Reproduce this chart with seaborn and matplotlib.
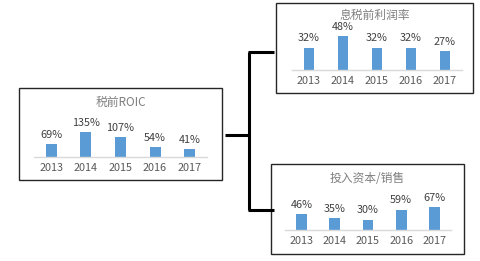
import matplotlib
matplotlib.use("Agg")
import matplotlib.pyplot as plt
from matplotlib.lines import Line2D
from matplotlib.patches import Rectangle
import seaborn as sns
import pandas as pd

sns.set_theme(style="white")
plt.rcParams["font.family"] = ["Noto Sans CJK SC", "DejaVu Sans"]

years = ["2013", "2014", "2015", "2016", "2017"]
roic_title = "税前ROIC"
roic = [69, 135, 107, 54, 41]
margin_title = "息税前利润率"
margin = [32, 48, 32, 32, 27]
capital_title = "投入资本/销售"
capital = [46, 35, 30, 59, 67]

W, H = 480, 261
fig = plt.figure(figsize=(W / 100, H / 100), dpi=100)
fig.patch.set_facecolor("white")


def frac(x0, y0, x1, y1):
    """Pixel box (top-left origin) -> figure-fraction rect."""
    return [x0 / W, 1 - y1 / H, (x1 - x0) / W, (y1 - y0) / H]


BAR = "#5B9BD5"
TXT = "#595959"


def panel(box, plot_box, scale, title, title_y, values):
    bx0, by0, bx1, by1 = box
    fig.add_artist(Rectangle((bx0 / W, 1 - by1 / H), (bx1 - bx0) / W, (by1 - by0) / H,
                             transform=fig.transFigure, fill=False,
                             edgecolor="#262626", linewidth=1.0))
    fig.text((bx0 + bx1) / 2 / W, 1 - title_y / H, title, ha="center", va="center",
             fontsize=8.5, color="#7F7F7F")
    px0, py0, px1, py1 = plot_box
    ax = fig.add_axes(frac(px0, py0, px1, py1))
    df = pd.DataFrame({"year": years, "value": values})
    sns.barplot(data=df, x="year", y="value", ax=ax, color=BAR, saturation=1,
                width=0.32, linewidth=0)
    ax.set_xlim(-0.5, len(years) - 0.5)
    ax.set_ylim(0, (py1 - py0) / scale)
    ax.set_facecolor("none")
    for s in ["top", "left", "right"]:
        ax.spines[s].set_visible(False)
    ax.spines["bottom"].set_color("#D9D9D9")
    ax.spines["bottom"].set_linewidth(1.0)
    ax.set_yticks([])
    ax.set_xlabel("")
    ax.set_ylabel("")
    ax.tick_params(axis="x", length=0, pad=4.5, labelsize=7.8, labelcolor=TXT)
    ax.bar_label(ax.containers[0], labels=[f"{v}%" for v in values],
                 padding=3.2, fontsize=7.8, color="#404040")
    return ax


panel((19, 88, 222, 180), (34, 105, 207, 157), 0.185, roic_title, 102, roic)
panel((276, 3, 473, 93), (292, 20, 462, 70), 0.70, margin_title, 15, margin)
panel((271, 164, 464, 254), (285, 185, 451, 230), 0.343, capital_title, 178, capital)

# bracket connecting the panels
lw = 2.2
for (x0, y0, x1, y1) in [(225, 135, 250, 135), (249, 52, 249, 210),
                         (248, 52, 274, 52), (248, 210, 274, 210)]:
    fig.add_artist(Line2D([x0 / W, x1 / W], [1 - y0 / H, 1 - y1 / H],
                          transform=fig.transFigure, color="black",
                          linewidth=lw, solid_capstyle="butt"))

fig.savefig("out.png", dpi=100, facecolor="white")
